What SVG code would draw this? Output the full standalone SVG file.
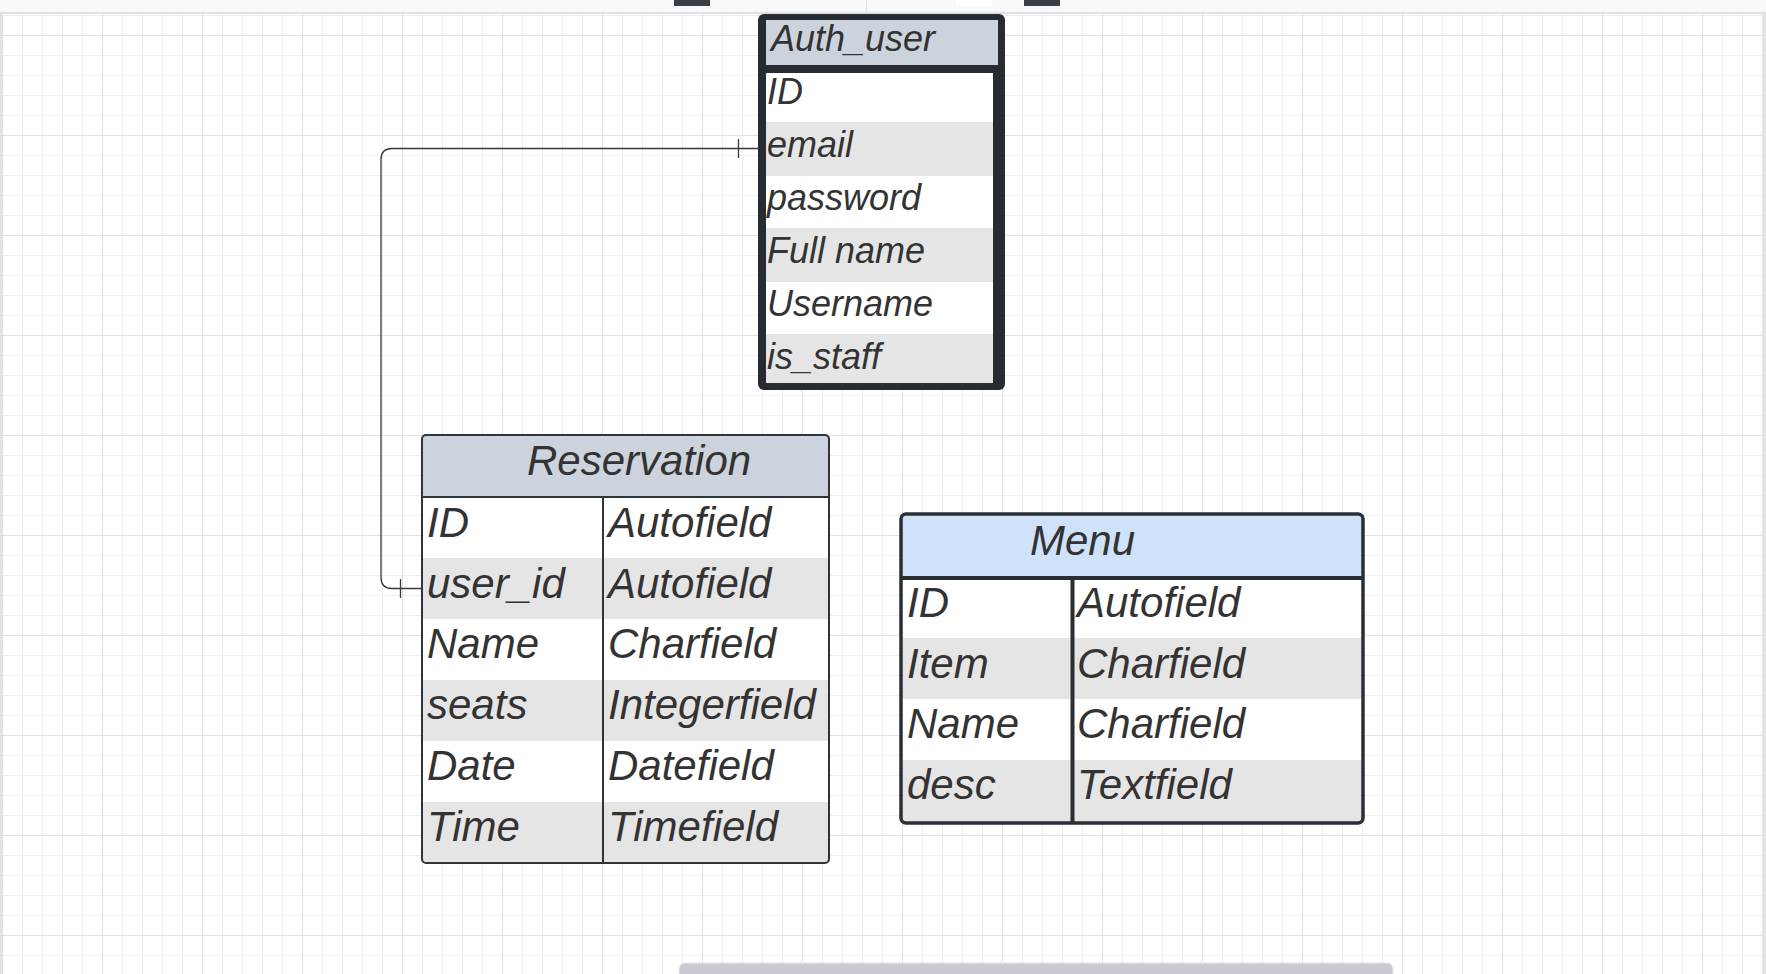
<svg xmlns="http://www.w3.org/2000/svg" width="1766" height="974" viewBox="0 0 1766 974">
  <defs>
    <pattern id="gMinor" x="2" y="15" width="20" height="20" patternUnits="userSpaceOnUse">
      <path d="M0 0.5H20M0.5 0V20" stroke="#efefef" stroke-width="1" fill="none"/>
    </pattern>
    <pattern id="gMajor" x="2" y="35" width="100" height="100" patternUnits="userSpaceOnUse">
      <path d="M0 0.5H100M0.5 0V100" stroke="#e0e0e0" stroke-width="1" fill="none"/>
    </pattern>
    <clipPath id="clipRes"><rect x="422" y="435" width="407" height="428" rx="4"/></clipPath>
    <clipPath id="clipMenu"><rect x="901" y="514" width="462" height="309" rx="5"/></clipPath>
    <style>
      .t { font-family: "Liberation Sans", Arial, sans-serif; font-style: italic; fill: #333333; }
      .f36 { font-size: 36px; }
      .f42 { font-size: 42px; }
      .white { fill: #ffffff; }
      .gray { fill: #e5e5e5; }
      .hdr { fill: #cdd3dc; }
      .conn { fill: none; stroke: #333a40; stroke-width: 1.3; }
    </style>
  </defs>

  <!-- canvas -->
  <rect x="0" y="0" width="1766" height="974" fill="#ffffff"/>
  <rect x="0" y="14" width="1766" height="960" fill="url(#gMinor)"/>
  <rect x="0" y="14" width="1766" height="960" fill="url(#gMajor)"/>
  <rect x="0" y="14" width="2.5" height="960" fill="#e2e2e2"/>
  <rect x="1762" y="14" width="4" height="960" fill="#e4e4e4"/>

  <!-- top bar -->
  <rect x="0" y="0" width="1766" height="12" fill="#f8f9fb"/>
  <rect x="0" y="12" width="1766" height="2" fill="#dde0e5"/>
  <line x1="866.5" y1="0" x2="866.5" y2="12" stroke="#e3e5e8" stroke-width="1"/>
  <rect x="674" y="0" width="36" height="6" fill="#3a3f48"/>
  <rect x="956" y="0" width="36" height="6" fill="#ffffff"/>
  <rect x="1024" y="0" width="36" height="6" fill="#3a3f48"/>

  <!-- connectors -->
  <g id="connectors">
    <path class="conn" d="M758 148.5H392Q381 148.5 381 159.5V577.5Q381 588.5 392 588.5H421"/>
    <path class="conn" d="M738.5 139V158"/>
    <path class="conn" d="M400.5 579V598"/>
  </g>

  <!-- Auth_user -->
  <g id="auth_user">
    <rect x="758" y="14" width="247" height="376" rx="6" fill="#272c33"/>
    <rect x="766" y="20" width="232" height="45" class="hdr"/>
    <rect x="766" y="73" width="227" height="49" class="white"/>
    <rect x="766" y="122" width="227" height="54" class="gray"/>
    <rect x="766" y="176" width="227" height="52" class="white"/>
    <rect x="766" y="228" width="227" height="54" class="gray"/>
    <rect x="766" y="282" width="227" height="52" class="white"/>
    <rect x="766" y="334" width="227" height="49" class="gray"/>
    <text class="t f36" x="771" y="51">Auth_user</text>
    <text class="t f36" x="767" y="104">ID</text>
    <text class="t f36" x="767" y="157">email</text>
    <text class="t f36" x="767" y="210">password</text>
    <text class="t f36" x="767" y="263">Full name</text>
    <text class="t f36" x="767" y="316">Username</text>
    <text class="t f36" x="767" y="369">is_staff</text>
  </g>

  <!-- Reservation -->
  <g id="reservation">
    <g clip-path="url(#clipRes)">
      <rect x="422" y="435" width="407" height="62" class="hdr"/>
      <rect x="422" y="497" width="407" height="61" class="white"/>
      <rect x="422" y="558" width="407" height="61" class="gray"/>
      <rect x="422" y="619" width="407" height="61" class="white"/>
      <rect x="422" y="680" width="407" height="61" class="gray"/>
      <rect x="422" y="741" width="407" height="61" class="white"/>
      <rect x="422" y="802" width="407" height="61" class="gray"/>
    </g>
    <line x1="422" y1="497" x2="829" y2="497" stroke="#2f343b" stroke-width="2"/>
    <line x1="603" y1="497" x2="603" y2="863" stroke="#2f343b" stroke-width="2"/>
    <rect x="422" y="435" width="407" height="428" rx="4" fill="none" stroke="#2f343b" stroke-width="2"/>
    <text class="t f42" x="527" y="475">Reservation</text>
    <text class="t f42" x="427" y="537">ID</text>
    <text class="t f42" x="427" y="598">user_id</text>
    <text class="t f42" x="427" y="658">Name</text>
    <text class="t f42" x="427" y="719">seats</text>
    <text class="t f42" x="427" y="780">Date</text>
    <text class="t f42" x="427" y="841">Time</text>
    <text class="t f42" x="608" y="537">Autofield</text>
    <text class="t f42" x="608" y="598">Autofield</text>
    <text class="t f42" x="608" y="658">Charfield</text>
    <text class="t f42" x="608" y="719">Integerfield</text>
    <text class="t f42" x="608" y="780">Datefield</text>
    <text class="t f42" x="608" y="841">Timefield</text>
  </g>

  <!-- Menu -->
  <g id="menu">
    <g clip-path="url(#clipMenu)">
      <rect x="901" y="514" width="462" height="64" fill="#cfe2fa"/>
      <rect x="901" y="578" width="462" height="60" class="white"/>
      <rect x="901" y="638" width="462" height="61" class="gray"/>
      <rect x="901" y="699" width="462" height="61" class="white"/>
      <rect x="901" y="760" width="462" height="63" class="gray"/>
    </g>
    <line x1="901" y1="578" x2="1363" y2="578" stroke="#2a2f36" stroke-width="4"/>
    <line x1="1072.5" y1="578" x2="1072.5" y2="823" stroke="#2a2f36" stroke-width="4"/>
    <rect x="901" y="514" width="462" height="309" rx="5" fill="none" stroke="#2a2f36" stroke-width="3.5"/>
    <text class="t f42" x="1030" y="555">Menu</text>
    <text class="t f42" x="907" y="617">ID</text>
    <text class="t f42" x="907" y="678">Item</text>
    <text class="t f42" x="907" y="738">Name</text>
    <text class="t f42" x="907" y="799">desc</text>
    <text class="t f42" x="1077" y="617">Autofield</text>
    <text class="t f42" x="1077" y="678">Charfield</text>
    <text class="t f42" x="1077" y="738">Charfield</text>
    <text class="t f42" x="1077" y="799">Textfield</text>
  </g>

  <!-- scrollbar -->
  <rect x="679" y="963" width="714" height="16" rx="6" fill="#c8ccd2" stroke="#e4e6ea" stroke-width="1"/>
</svg>
